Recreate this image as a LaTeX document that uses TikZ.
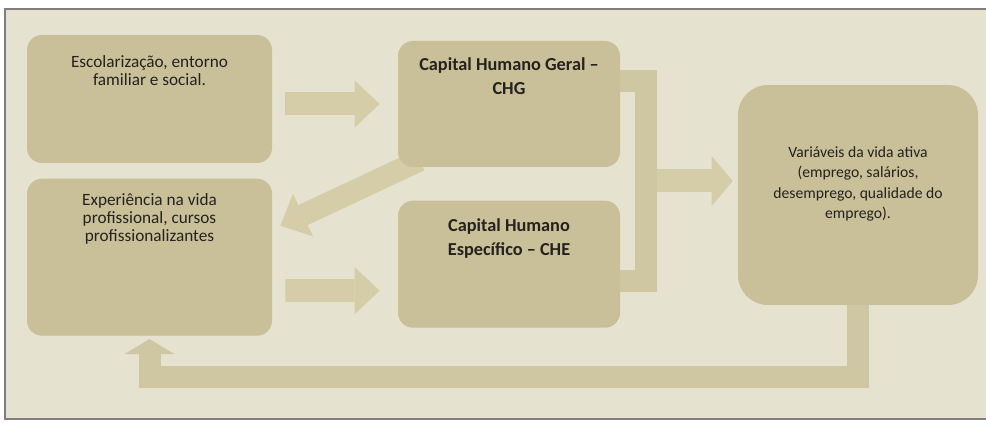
\documentclass[tikz,border=0pt]{standalone}
\usepackage{fontspec}
\setmainfont{Carlito}
\usepackage{tikz}
\usetikzlibrary{arrows.meta, positioning, backgrounds}

\definecolor{paper}{RGB}{229,226,207}
\definecolor{boxfill}{RGB}{201,191,153}
\definecolor{arrowfill}{RGB}{212,205,168}
\definecolor{bandfill}{RGB}{207,199,161}
\definecolor{inkgray}{RGB}{36,34,28}

\begin{document}
\begin{tikzpicture}[
    node distance=0.3cm,
    box/.style={rectangle, fill=boxfill, rounded corners=0.3cm, minimum width=4.9cm,
                minimum height=2.56cm},
    txt/.style={inner sep=0pt, align=center, text=inkgray, font=\fontsize{9.8}{10.1}\selectfont},
    capt/.style={txt, font=\fontsize{10.4}{13.4}\selectfont\bfseries},
    fat/.style={-{Triangle[width=0.94cm, length=0.5cm, line width=0pt]}, line width=0.46cm,
                draw=arrowfill},
    band/.style={line width=0.44cm, draw=bandfill}
]
    \useasboundingbox (0,0) rectangle (19.72,8.46);

    \node[box] (esc) at (2.99,6.48) {};
    \node[box, minimum height=3.14cm, below=of esc] (exp) {};
    \node[box, minimum width=4.44cm, minimum height=2.52cm] (chg) at (10.18,6.38) {};
    \node[box, minimum width=4.44cm, minimum height=2.54cm, below=0.66cm of chg] (che) {};
    \node[box, minimum width=4.8cm, minimum height=4.4cm, rounded corners=0.6cm] (var) at (17.16,4.56) {};

    \node[txt, below=0.42cm of esc.north] (esctxt) {Escolarização, entorno\\familiar e social.};
    \node[txt, below=0.3cm of exp.north] (exptxt) {Experiência na vida\\profissional, cursos\\profissionalizantes};
    \node[capt, below=0.34cm of chg.north] (chgtxt) {Capital Humano Geral –\\CHG};
    \node[capt, below=0.36cm of che.north] (chetxt) {Capital Humano\\Específico – CHE};
    \node[txt, font=\fontsize{8.9}{11.7}\selectfont, yshift=0.22cm] (vartxt) at (var)
        {Variáveis da vida ativa\\(emprego, salários,\\desemprego, qualidade do\\emprego).};

    \begin{scope}[on background layer]
        \fill[white] (0,0) rectangle (19.72,8.46);
        \fill[paper] (0.1,0.08) rectangle (19.72,8.28);
        \draw[gray, line width=0.8pt] (19.72,8.28) -- (0.1,8.28) -- (0.1,0.08) -- (19.72,0.08);
        \draw[fat, line width=0.44cm] ([xshift=0.44cm,yshift=0.14cm]chg.south west) -- ([xshift=0.16cm,yshift=0.63cm]exp.east);
    \end{scope}

    \draw[fat, shorten <=0.26cm, shorten >=0.36cm] (esc.east |- chg.west) -- (chg.west);
    \draw[fat, shorten <=0.26cm, shorten >=0.36cm] ([yshift=-0.67cm]exp.east) -- ([yshift=-0.53cm]che.west);

    \draw[band] ([yshift=0.45cm]chg.east) -| ([xshift=0.52cm,yshift=-0.33cm]che.east) coordinate (bend)
        -- ([yshift=-0.33cm]che.east);
    \coordinate (pin) at ([yshift=0.28cm]var.west);
    \draw[fat, -{Triangle[width=1.0cm, length=0.42cm, line width=0pt]}, shorten <=0.22cm, shorten >=0.1cm]
        (bend |- pin) -- (pin);

    \draw[band, -{Triangle[width=1.0cm, length=0.3cm, line width=0pt]}, shorten >=0.06cm]
        (var.south) |- ([yshift=-0.82cm]exp.south) -- (exp.south);
\end{tikzpicture}
\end{document}
